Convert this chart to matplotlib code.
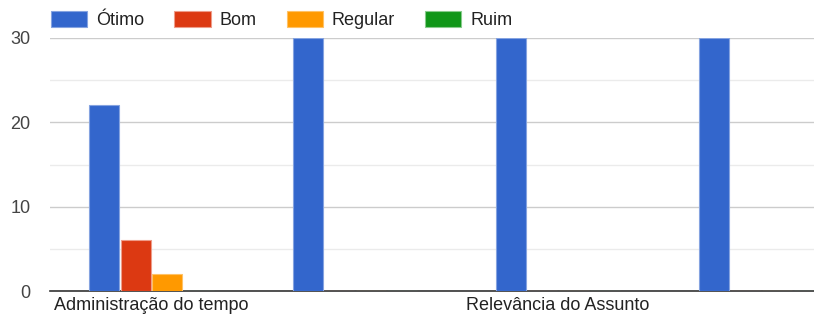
import matplotlib.pyplot as plt
import numpy as np

plt.rcParams['font.family'] = ['Liberation Sans', 'DejaVu Sans']

categories = ["Administração do tempo", "", "Relevância do Assunto", ""]
series = ["Ótimo", "Bom", "Regular", "Ruim"]
otimo = [22, 30, 30, 30]
bom = [6, 0, 0, 0]
regular = [2, 0, 0, 0]
ruim = [0, 0, 0, 0]
yticks = [0, 10, 20, 30]

colors = ["#3366cc", "#dc3912", "#ff9900", "#109618"]
edges = ["#85a3e0", "#ee9c89", "#ffc266", "#88cb8c"]

fig = plt.figure(figsize=(8.14, 3.2), dpi=100)
ax = fig.add_axes([50 / 814, 29 / 320, 813 / 814, 253 / 320])

x = np.arange(len(categories))
step = 0.155
width = 0.148
for i, (name, vals) in enumerate(zip(series, [otimo, bom, regular, ruim])):
    ax.bar(x + (i - 1.5) * step, vals, width, color=colors[i],
           edgecolor=edges[i], linewidth=0.8, label=name, zorder=5)

ax.set_xlim(-0.5, 3.5)
ax.set_ylim(0, 30)
ax.set_yticks(yticks)
ax.set_yticks([5, 15, 25], minor=True)
ax.grid(axis='y', which='major', color='#cccccc', linewidth=1.0, zorder=0)
ax.grid(axis='y', which='minor', color='#ebebeb', linewidth=1.0, zorder=0)
ax.tick_params(axis='y', which='both', length=0, pad=14, labelsize=13, labelcolor='#444444')
ax.set_xticks(x)
ax.set_xticklabels(categories)
ax.tick_params(axis='x', length=0, pad=4, labelsize=13, labelcolor='#222222')

for s in ['top', 'right', 'left']:
    ax.spines[s].set_visible(False)
ax.spines['bottom'].set_color('#333333')
ax.spines['bottom'].set_linewidth(1.2)
ax.spines['bottom'].set_zorder(4)

leg = ax.legend(loc='lower left', bbox_to_anchor=(-0.011, 0.995), ncol=4, frameon=False,
                fontsize=13, handlelength=2.0, handleheight=0.95,
                handletextpad=0.5, columnspacing=1.67, borderaxespad=0.15)
for t in leg.get_texts():
    t.set_color('#222222')

fig.savefig('out.png', dpi=100)
